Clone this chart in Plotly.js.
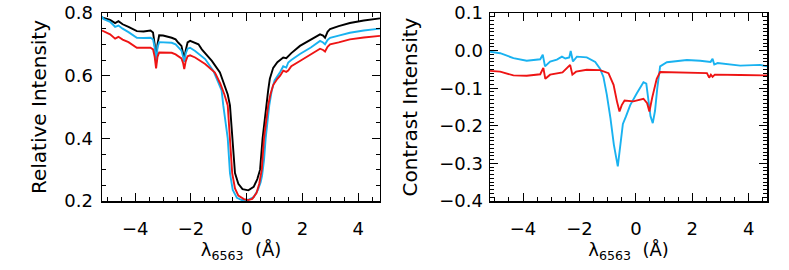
<!DOCTYPE html>
<html>
<head>
<meta charset="utf-8">
<script src="https://cdn.plot.ly/plotly-3.0.1.min.js"></script>
<style>
html,body{margin:0;padding:0;background:#fff;}
#chart{width:789px;height:270px;}
</style>
</head>
<body>
<div id="chart"></div>
<script>
// ---- Left panel: relative intensity profiles ----
const blackX = [-5.19,-5.14,-4.9,-4.72,-4.6,-4.45,-4.24,-3.94,-3.7,-3.45,-3.36,-3.3,-3.25,-3.2,-3.14,-3.0,-2.69,-2.55,-2.45,-2.34,-2.28,-2.24,-2.19,-2.12,-2.03,-1.73,-1.61,-1.25,-0.96,-0.78,-0.68,-0.6,-0.52,-0.42,-0.3,-0.15,0.06,0.25,0.38,0.48,0.57,0.69,0.77,0.83,0.95,1.1,1.31,1.42,1.49,1.6,1.91,2.3,2.63,2.74,2.81,2.9,2.99,3.3,3.7,4.2,4.66,4.78];
const blackY = [0.786,0.784,0.778,0.768,0.774,0.764,0.756,0.742,0.741,0.744,0.738,0.70,0.645,0.70,0.729,0.728,0.721,0.716,0.705,0.695,0.67,0.653,0.68,0.706,0.711,0.700,0.684,0.647,0.610,0.568,0.540,0.505,0.400,0.289,0.255,0.238,0.234,0.245,0.270,0.300,0.400,0.505,0.553,0.590,0.625,0.643,0.658,0.656,0.663,0.672,0.695,0.714,0.732,0.728,0.721,0.740,0.749,0.758,0.768,0.776,0.782,0.783];

const cyanX = [-5.19,-5.14,-4.9,-4.72,-4.6,-4.45,-4.24,-3.94,-3.7,-3.45,-3.36,-3.3,-3.25,-3.2,-3.14,-3.0,-2.69,-2.55,-2.45,-2.34,-2.28,-2.24,-2.19,-2.12,-2.03,-1.85,-1.49,-1.2,-1.02,-0.9,-0.84,-0.68,-0.6,-0.5,-0.35,-0.18,0.05,0.25,0.4,0.5,0.55,0.62,0.68,0.75,0.81,0.9,1.0,1.2,1.31,1.42,1.49,1.6,1.91,2.3,2.63,2.74,2.81,2.9,2.99,3.3,3.7,4.2,4.66,4.78];
const cyanY = [0.790,0.781,0.772,0.756,0.760,0.750,0.739,0.721,0.720,0.721,0.716,0.69,0.640,0.69,0.707,0.706,0.705,0.700,0.689,0.680,0.66,0.644,0.67,0.686,0.689,0.679,0.653,0.616,0.579,0.553,0.505,0.400,0.289,0.235,0.210,0.203,0.204,0.212,0.235,0.260,0.280,0.330,0.400,0.460,0.505,0.553,0.585,0.612,0.630,0.626,0.642,0.650,0.669,0.690,0.711,0.706,0.700,0.714,0.721,0.728,0.737,0.744,0.749,0.750];

const redX = [-5.19,-5.14,-4.9,-4.72,-4.6,-4.45,-4.24,-3.94,-3.7,-3.45,-3.36,-3.3,-3.25,-3.2,-3.14,-3.0,-2.69,-2.55,-2.45,-2.34,-2.28,-2.24,-2.19,-2.12,-2.03,-1.85,-1.49,-1.14,-0.95,-0.8,-0.68,-0.6,-0.52,-0.42,-0.3,-0.1,0.05,0.2,0.35,0.45,0.54,0.62,0.72,0.77,0.85,0.95,1.1,1.2,1.31,1.42,1.49,1.6,1.91,2.3,2.63,2.74,2.81,2.9,2.99,3.3,3.7,4.2,4.66,4.78];
const redY = [0.744,0.742,0.732,0.718,0.724,0.715,0.707,0.689,0.688,0.689,0.684,0.66,0.623,0.66,0.674,0.673,0.673,0.668,0.661,0.655,0.64,0.621,0.645,0.662,0.665,0.658,0.637,0.610,0.575,0.540,0.505,0.400,0.289,0.240,0.217,0.206,0.203,0.207,0.225,0.255,0.300,0.400,0.480,0.505,0.540,0.570,0.590,0.600,0.616,0.612,0.616,0.630,0.647,0.667,0.686,0.682,0.677,0.692,0.700,0.706,0.716,0.722,0.726,0.727];

// ---- Right panel: contrast intensity ----
const cCyanX = [-5.17,-4.81,-4.34,-3.87,-3.39,-3.30,-3.22,-3.04,-2.80,-2.62,-2.50,-2.36,-2.31,-2.23,-2.09,-1.74,-1.44,-1.27,-1.15,-1.03,-0.90,-0.78,-0.64,-0.55,-0.46,-0.35,-0.20,0.04,0.27,0.37,0.45,0.52,0.60,0.68,0.76,0.86,1.10,1.81,2.28,2.65,2.72,2.78,2.90,3.70,4.41,4.65];
const cCyanY = [-0.003,-0.007,-0.020,-0.027,-0.023,-0.011,-0.042,-0.029,-0.024,-0.016,-0.021,-0.018,-0.001,-0.029,-0.016,-0.018,-0.030,-0.048,-0.070,-0.117,-0.180,-0.250,-0.308,-0.250,-0.195,-0.175,-0.145,-0.113,-0.084,-0.088,-0.130,-0.175,-0.193,-0.160,-0.100,-0.042,-0.031,-0.025,-0.027,-0.030,-0.022,-0.037,-0.033,-0.040,-0.038,-0.042];

const cRedX = [-5.17,-4.81,-4.34,-3.87,-3.39,-3.28,-3.21,-3.04,-2.60,-2.33,-2.25,-2.12,-1.74,-1.27,-0.97,-0.79,-0.67,-0.58,-0.50,-0.40,-0.09,0.27,0.40,0.48,0.58,0.74,0.86,1.69,2.52,2.60,2.66,2.72,2.80,3.70,4.65];
const cRedY = [-0.054,-0.056,-0.066,-0.067,-0.063,-0.046,-0.075,-0.064,-0.058,-0.038,-0.064,-0.056,-0.051,-0.052,-0.060,-0.091,-0.135,-0.162,-0.145,-0.133,-0.135,-0.128,-0.140,-0.162,-0.125,-0.075,-0.057,-0.058,-0.060,-0.072,-0.064,-0.070,-0.064,-0.065,-0.066];

const leftYTicks = [0.2, 0.4, 0.6, 0.8];
const rightYTicks = [-0.4, -0.3, -0.2, -0.1, 0.0, 0.1];
const xTicks = [-4, -2, 0, 2, 4];

const BLACK = '#000000', CYAN = 'rgb(25,178,240)', RED = 'rgb(238,20,20)';
const FONT = 'DejaVu Sans, Arial, sans-serif';

function line(x, y, color, xa, ya) {
  return {x: x, y: y, type: 'scatter', mode: 'lines', xaxis: xa, yaxis: ya,
          line: {color: color, width: 1.9}, hoverinfo: 'skip', showlegend: false};
}

const traces = [
  line(blackX, blackY, BLACK, 'x', 'y'),
  line(cyanX, cyanY, CYAN, 'x', 'y'),
  line(redX, redY, RED, 'x', 'y'),
  line(cCyanX, cCyanY, CYAN, 'x2', 'y2'),
  line(cRedX, cRedY, RED, 'x2', 'y2')
];

const axisCommon = {
  showline: true, linecolor: '#000', linewidth: 1.5, mirror: 'allticks',
  ticks: 'inside', ticklen: 8, tickwidth: 1, tickcolor: '#000',
  showgrid: false, zeroline: false,
  tickfont: {family: FONT, size: 18, color: '#000'}
};

function xaxis(domain, anchor, range) {
  return Object.assign({}, axisCommon, {
    domain: domain, anchor: anchor, range: range,
    ticklabelstandoff: 11,
    tickvals: xTicks, ticktext: xTicks.map(v => v < 0 ? '\u2212' + Math.abs(v) : String(v)),
    minor: {dtick: 0.5, tick0: 0, ticks: 'inside', ticklen: 4, tickcolor: '#000', tickwidth: 1},
    title: {text: '\u03bb<sub>6563</sub>  (\u00c5)', font: {family: FONT, size: 18, color: '#000'}, standoff: 1}
  });
}

const layout = {
  width: 789, height: 270,
  margin: {l: 102, r: 22, t: 13, b: 69},
  paper_bgcolor: '#fff', plot_bgcolor: '#fff',
  showlegend: false,
  xaxis: xaxis([0, 0.418], 'y', [-5.19, 4.78]),
  yaxis: Object.assign({}, axisCommon, {
    domain: [0, 1], anchor: 'x', range: [0.2, 0.8],
    ticklabelstandoff: 4,
    tickvals: leftYTicks, ticktext: leftYTicks.map(v => v.toFixed(1)),
    minor: {dtick: 0.05, tick0: 0, ticks: 'inside', ticklen: 4, tickcolor: '#000', tickwidth: 1},
    title: {text: 'Relative Intensity', font: {family: FONT, size: 20, color: '#000'}, standoff: 12}
  }),
  xaxis2: xaxis([0.5835, 1], 'y2', [-5.17, 4.65]),
  yaxis2: Object.assign({}, axisCommon, {
    domain: [0, 1], anchor: 'x2', range: [-0.4, 0.1],
    ticklabelstandoff: 2,
    tickvals: rightYTicks, ticktext: rightYTicks.map(v => (v < 0 ? '\u2212' : '') + Math.abs(v).toFixed(1)),
    minor: {dtick: 0.01, tick0: 0, ticks: 'inside', ticklen: 4, tickcolor: '#000', tickwidth: 1},
    title: {text: 'Contrast Intensity', font: {family: FONT, size: 20, color: '#000'}, standoff: 16}
  })
};

Plotly.newPlot('chart', traces, layout, {staticPlot: true, displayModeBar: false});
</script>
</body>
</html>
